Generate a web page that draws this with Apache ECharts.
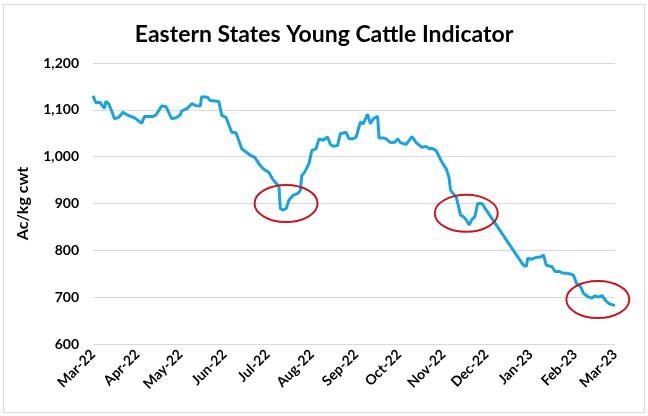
<!DOCTYPE html>
<html>
<head>
<meta charset="utf-8">
<script src="https://cdn.jsdelivr.net/npm/echarts@6/dist/echarts.min.js"></script>
<style>html,body{margin:0;padding:0;background:#fff}#c{width:648px;height:416px}</style>
</head>
<body>
<div id="c"></div>
<script>
const title = 'Eastern States Young Cattle Indicator';
const yName = 'Ac/kg cwt';
const monthNames = ['Jan','Feb','Mar','Apr','May','Jun','Jul','Aug','Sep','Oct','Nov','Dec'];

const dates = [
'2022-03-01','2022-03-03','2022-03-06','2022-03-07','2022-03-09','2022-03-10','2022-03-12','2022-03-14','2022-03-16','2022-03-19',
'2022-03-22','2022-03-25','2022-03-30','2022-04-04','2022-04-06','2022-04-12','2022-04-14','2022-04-18','2022-04-21','2022-04-25',
'2022-04-28','2022-05-01','2022-05-02','2022-05-06','2022-05-09','2022-05-12','2022-05-15','2022-05-16','2022-05-20','2022-05-22',
'2022-05-28','2022-05-30','2022-06-02','2022-06-06','2022-06-09','2022-06-13','2022-06-16','2022-06-19','2022-06-20','2022-06-22',
'2022-06-25','2022-06-28','2022-07-02','2022-07-05','2022-07-09','2022-07-10','2022-07-12','2022-07-14','2022-07-16','2022-07-19',
'2022-07-22','2022-07-24','2022-07-25','2022-07-27','2022-07-30','2022-08-01','2022-08-04','2022-08-06','2022-08-09','2022-08-12',
'2022-08-14','2022-08-16','2022-08-19','2022-08-21','2022-08-25','2022-08-27','2022-08-30','2022-09-01','2022-09-04','2022-09-06',
'2022-09-07','2022-09-09','2022-09-11','2022-09-13','2022-09-16','2022-09-17','2022-09-20','2022-09-22','2022-09-25','2022-09-28',
'2022-09-30','2022-10-02','2022-10-06','2022-10-10','2022-10-13','2022-10-17','2022-10-20','2022-10-22','2022-10-24','2022-10-27',
'2022-10-29','2022-10-31','2022-11-03','2022-11-05','2022-11-06','2022-11-08','2022-11-10','2022-11-13','2022-11-15','2022-11-17',
'2022-11-19','2022-11-21','2022-11-23','2022-11-25','2022-11-28','2022-12-01','2022-12-27','2022-12-29','2022-12-30','2023-01-02',
'2023-01-05','2023-01-08','2023-01-10','2023-01-12','2023-01-16','2023-01-18','2023-01-21','2023-01-24','2023-01-27','2023-01-31',
'2023-02-02','2023-02-05','2023-02-07','2023-02-10','2023-02-13','2023-02-15','2023-02-17','2023-02-20','2023-02-23','2023-02-25',
'2023-03-01'
];
const values = [
1130,1115,1116,1111,1103,1118,1113,1098,1081,1084,
1095,1089,1083,1071,1086,1086,1089,1108,1107,1081,
1083,1089,1098,1103,1113,1109,1108,1128,1127,1120,
1118,1088,1084,1052,1051,1017,1010,1003,1006,999,
985,974,966,950,937,889,886,889,907,918,
921,928,960,967,985,1013,1017,1038,1035,1042,
1026,1022,1024,1049,1052,1038,1038,1042,1074,1070,
1074,1091,1070,1081,1086,1040,1040,1038,1030,1031,
1038,1030,1026,1043,1030,1020,1022,1017,1018,1013,
1000,988,974,955,928,921,914,875,872,865,
854,866,872,900,900,886,768,766,783,781,
785,786,790,768,765,755,755,751,751,747,
730,722,708,701,698,703,700,703,691,686,
682
];

const annotDates = ['2022-07-14','2022-11-17','2023-02-17'];
const annotValues = [900, 879, 695];

const axisStart = '2022-03-01';
const axisEnd = '2023-03-01';

const FONT = 'Lato';
const chart = echarts.init(document.getElementById('c'), null, {renderer:'canvas'});
const DAY = 86400000;

chart.setOption({
  animation: false,
  backgroundColor: '#fff',
  title: {
    text: title, left: 'center', top: 18,
    textStyle: {fontFamily: FONT, fontWeight: 'bold', fontSize: 23, color: '#000'}
  },
  grid: {left: 93, right: 33, top: 63, bottom: 72, containLabel: false},
  xAxis: {
    type: 'time',
    min: axisStart, max: axisEnd,
    minInterval: 28 * DAY, maxInterval: 31 * DAY,
    axisLine: {show: false}, axisTick: {show: false}, splitLine: {show: false},
    axisLabel: {
      rotate: 45, margin: 8, fontFamily: FONT, fontWeight: 'bold', fontSize: 14, color: '#000',
      showMinLabel: true, showMaxLabel: true, hideOverlap: false,
      formatter: function (v) {
        const d = new Date(v);
        return monthNames[d.getMonth()] + '-' + String(d.getFullYear()).slice(2);
      }
    }
  },
  yAxis: {
    type: 'value', min: 600, max: 1200, interval: 100,
    name: yName, nameLocation: 'middle', nameGap: 62,
    nameTextStyle: {fontFamily: FONT, fontWeight: 'bold', fontSize: 16, color: '#000'},
    axisLine: {show: false}, axisTick: {show: false},
    splitLine: {lineStyle: {color: '#d9d9d9', width: 1}},
    axisLabel: {
      margin: 14, fontFamily: FONT, fontWeight: 'bold', fontSize: 14, color: '#000',
      formatter: function (v) { return v.toLocaleString('en-US'); }
    }
  },
  series: [{
    type: 'line',
    data: dates.map((d, i) => [d, values[i]]),
    showSymbol: false, symbol: 'none',
    lineStyle: {color: '#1BA3DF', width: 3},
    itemStyle: {color: '#1BA3DF'}
  }]
});

const ellipses = annotDates.map((d, i) => {
  const p = chart.convertToPixel({xAxisIndex: 0, yAxisIndex: 0}, [d, annotValues[i]]);
  return {
    type: 'ellipse', shape: {cx: p[0], cy: p[1], rx: 31.5, ry: 18.5},
    style: {fill: 'none', stroke: '#C8161E', lineWidth: 2}, z: 100
  };
});
ellipses.push({
  type: 'rect', shape: {x: 3.5, y: 4.5, width: 641, height: 408},
  style: {fill: 'none', stroke: '#d9d9d9', lineWidth: 1}, z: 0, silent: true
});
chart.setOption({graphic: ellipses});
</script>
</body>
</html>
